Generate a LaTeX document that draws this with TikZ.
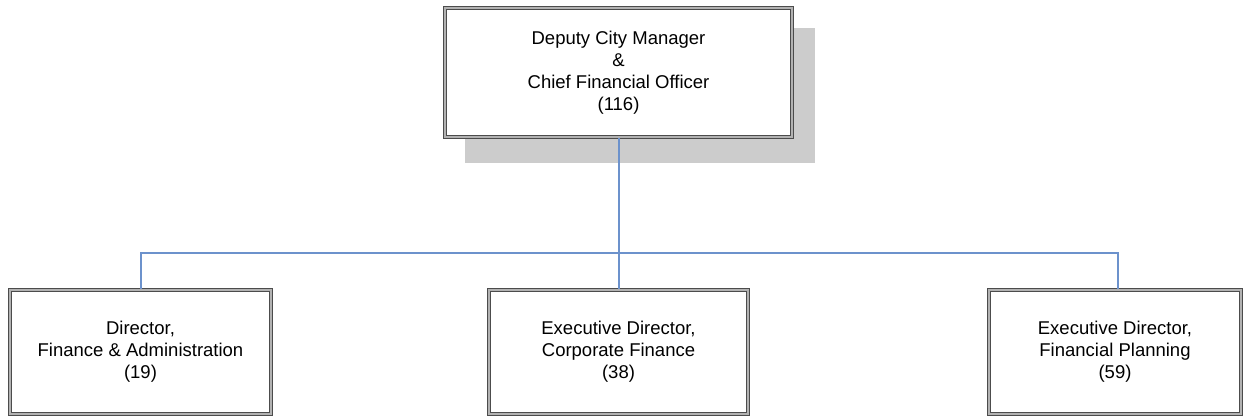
\documentclass[tikz,border=0pt]{standalone}
\usepackage{fontspec}
\setmainfont{Liberation Sans}
\definecolor{linkblue}{RGB}{108,146,204}
\tikzset{
  orgbox/.style={draw=black!70,double=black!30,double distance=1.6pt,line width=1.1pt,
    fill=white,align=center,inner sep=0pt,font=\fontsize{18.5}{22}\selectfont},
  link/.style={linkblue,line width=2pt}
}
\begin{document}
\begin{tikzpicture}[x=1pt,y=1pt]
      \useasboundingbox (0,0) rectangle (1244,419);
      \fill[black!20] (465,256) rectangle (815,391);
      \node[orgbox,minimum width=347pt,minimum height=129pt] (dcm) at (618.5,346.5)
        {Deputy City Manager\\ \&\\ Chief Financial Officer\\ (116)};
      \node[orgbox,minimum width=261pt,minimum height=124pt] (fin) at (140.5,67)
        {Director,\\ Finance \& Administration\\ (19)};
      \node[orgbox,minimum width=259pt,minimum height=124pt] (corp) at (618.5,67)
        {Executive Director,\\ Corporate Finance\\ (38)};
      \node[orgbox,minimum width=252pt,minimum height=124pt] (plan) at (1115,67)
        {Executive Director,\\ Financial Planning\\ (59)};
      \coordinate (bar) at (618.5,166);
      \draw[link] (dcm.south) -- (bar);
      \draw[link] (bar) -| (fin.north);
      \draw[link] (bar) -- (corp.north);
      \draw[link] (bar) -| ([xshift=3pt]plan.north);
    \end{tikzpicture}
\end{document}
